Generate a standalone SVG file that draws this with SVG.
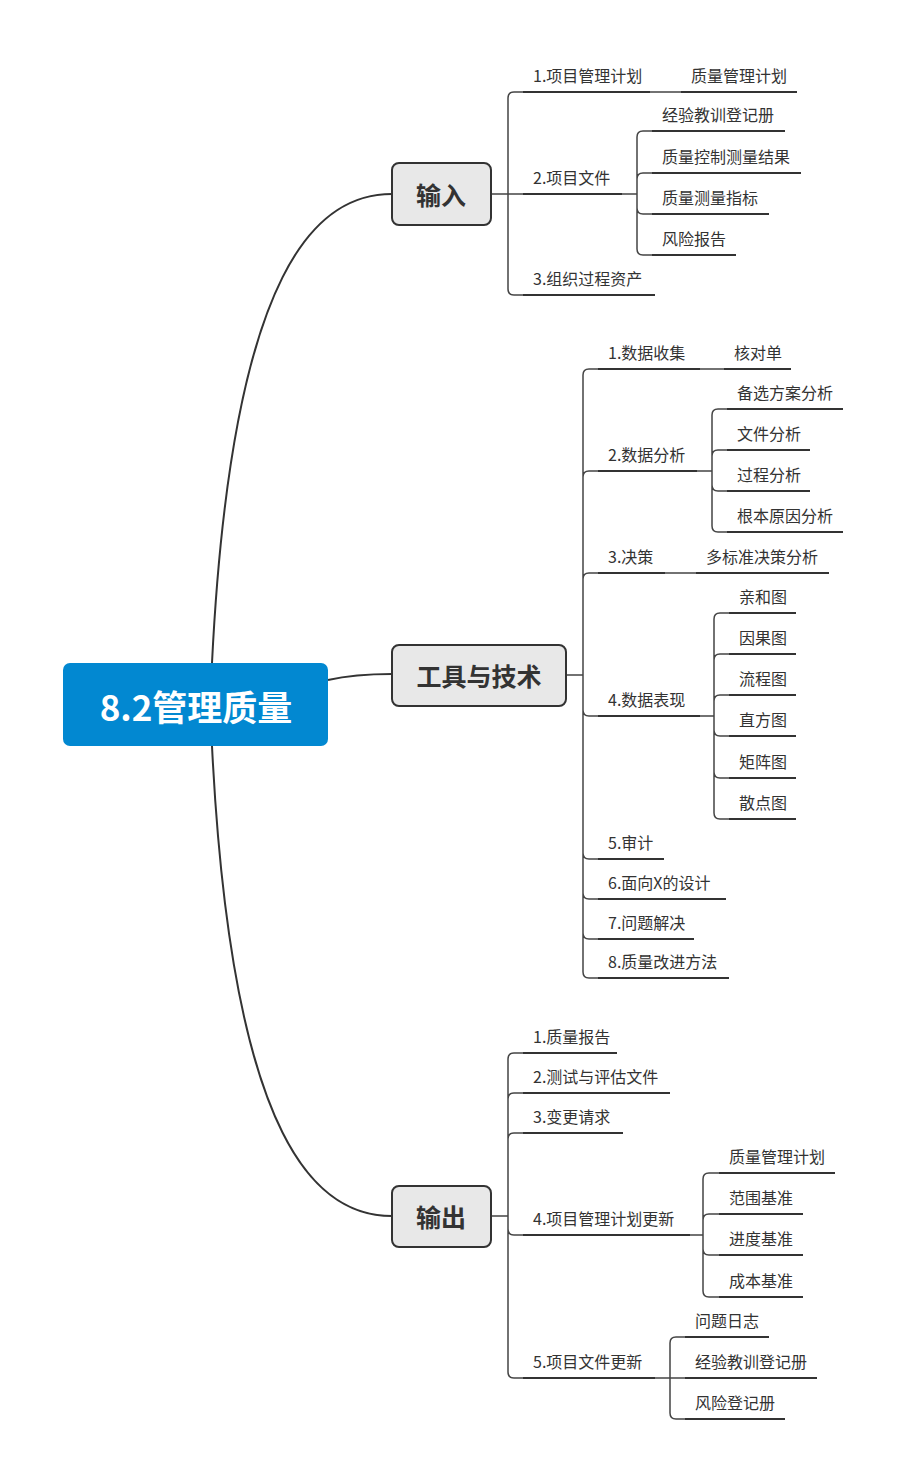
<svg xmlns="http://www.w3.org/2000/svg" width="906" height="1482" viewBox="0 0 906 1482">
<style>
text{font-family:"Noto Sans CJK SC","Noto Sans",sans-serif;fill:#333;}
.t{font-size:16px;}
.ul{stroke:#333;stroke-width:2;fill:none;}
.c{stroke:#444;stroke-width:1.5;fill:none;}
.rc{stroke:#333;stroke-width:2;fill:none;}
.n{fill:#e8e8e8;stroke:#333;stroke-width:2;}
.nt{font-size:25px;font-weight:bold;text-anchor:middle;dominant-baseline:central;}
</style>
<rect width="906" height="1482" fill="#fff"/>
<g id="connectors">
<path class="rc" d="M212,663 C232,260 320,194 392,194"/>
<path class="rc" d="M328,680 C350,675 370,674 392,674"/>
<path class="rc" d="M212,746 C232,1150 320,1216 392,1216"/>
<path class="c" d="M491,194 H508 M508,194 V98 Q508,92 514,92 H523 M508,194 H523 M508,194 V289 Q508,295 514,295 H523 M650,92 H681 M622,194 H637 M637,194 V137 Q637,131 643,131 H652 M637,194 V179 Q637,173 643,173 H652 M637,194 V208 Q637,214 643,214 H652 M637,194 V249 Q637,255 643,255 H652"/>
<path class="c" d="M566,675 H583 M583,675 V375 Q583,369 589,369 H598 M583,675 V477 Q583,471 589,471 H598 M583,675 V579 Q583,573 589,573 H598 M583,675 V710 Q583,716 589,716 H598 M583,675 V853 Q583,859 589,859 H598 M583,675 V893 Q583,899 589,899 H598 M583,675 V933 Q583,939 589,939 H598 M583,675 V972 Q583,978 589,978 H598 M700,369 H724 M697,471 H712 M712,471 V415 Q712,409 718,409 H727 M712,471 V456 Q712,450 718,450 H727 M712,471 V485 Q712,491 718,491 H727 M712,471 V526 Q712,532 718,532 H727 M665,573 H696 M700,716 H714 M714,716 V619 Q714,613 720,613 H729 M714,716 V660 Q714,654 720,654 H729 M714,716 V701 Q714,695 720,695 H729 M714,716 V730 Q714,736 720,736 H729 M714,716 V772 Q714,778 720,778 H729 M714,716 V813 Q714,819 720,819 H729"/>
<path class="c" d="M491,1216 H508 M508,1216 V1059 Q508,1053 514,1053 H523 M508,1216 V1099 Q508,1093 514,1093 H523 M508,1216 V1139 Q508,1133 514,1133 H523 M508,1216 V1229 Q508,1235 514,1235 H523 M508,1216 V1372 Q508,1378 514,1378 H523 M690,1235 H703 M703,1235 V1179 Q703,1173 709,1173 H719 M703,1235 V1220 Q703,1214 709,1214 H719 M703,1235 V1249 Q703,1255 709,1255 H719 M703,1235 V1291 Q703,1297 709,1297 H719 M655,1378 H670 M670,1378 V1343 Q670,1337 676,1337 H685 M670,1378 H685 M670,1378 V1413 Q670,1419 676,1419 H685"/>
</g>
<g id="root">
<rect x="63" y="663" width="265" height="83" rx="7" fill="#0288d1"/>
<text x="196" y="705" font-size="35" font-weight="bold" text-anchor="middle" dominant-baseline="central" style="fill:#fff">8.2管理质量</text>
</g>
<g id="n-input"><rect class="n" x="392" y="163" width="99" height="62" rx="7"/><text class="nt" x="441" y="194">输入</text></g>
<g id="n-tools"><rect class="n" x="392" y="645" width="174" height="61" rx="7"/><text class="nt" x="479" y="675">工具与技术</text></g>
<g id="n-output"><rect class="n" x="392" y="1186" width="99" height="61" rx="7"/><text class="nt" x="441" y="1216">输出</text></g>

<g id="i1"><text class="t" x="533" y="82">1.项目管理计划</text><line class="ul" x1="523" y1="92" x2="650" y2="92"/></g>
<g id="i1a"><text class="t" x="691" y="82">质量管理计划</text><line class="ul" x1="681" y1="92" x2="797" y2="92"/></g>
<g id="i2"><text class="t" x="533" y="184">2.项目文件</text><line class="ul" x1="523" y1="194" x2="622" y2="194"/></g>
<g id="i2a"><text class="t" x="662" y="121">经验教训登记册</text><line class="ul" x1="652" y1="131" x2="785" y2="131"/></g>
<g id="i2b"><text class="t" x="662" y="163">质量控制测量结果</text><line class="ul" x1="652" y1="173" x2="801" y2="173"/></g>
<g id="i2c"><text class="t" x="662" y="204">质量测量指标</text><line class="ul" x1="652" y1="214" x2="769" y2="214"/></g>
<g id="i2d"><text class="t" x="662" y="245">风险报告</text><line class="ul" x1="652" y1="255" x2="736" y2="255"/></g>
<g id="i3"><text class="t" x="533" y="285">3.组织过程资产</text><line class="ul" x1="523" y1="295" x2="655" y2="295"/></g>

<g id="t1"><text class="t" x="608" y="359">1.数据收集</text><line class="ul" x1="598" y1="369" x2="700" y2="369"/></g>
<g id="t1a"><text class="t" x="734" y="359">核对单</text><line class="ul" x1="724" y1="369" x2="791" y2="369"/></g>
<g id="t2"><text class="t" x="608" y="461">2.数据分析</text><line class="ul" x1="598" y1="471" x2="697" y2="471"/></g>
<g id="t2a"><text class="t" x="737" y="399">备选方案分析</text><line class="ul" x1="727" y1="409" x2="843" y2="409"/></g>
<g id="t2b"><text class="t" x="737" y="440">文件分析</text><line class="ul" x1="727" y1="450" x2="810" y2="450"/></g>
<g id="t2c"><text class="t" x="737" y="481">过程分析</text><line class="ul" x1="727" y1="491" x2="810" y2="491"/></g>
<g id="t2d"><text class="t" x="737" y="522">根本原因分析</text><line class="ul" x1="727" y1="532" x2="843" y2="532"/></g>
<g id="t3"><text class="t" x="608" y="563">3.决策</text><line class="ul" x1="598" y1="573" x2="665" y2="573"/></g>
<g id="t3a"><text class="t" x="706" y="563">多标准决策分析</text><line class="ul" x1="696" y1="573" x2="829" y2="573"/></g>
<g id="t4"><text class="t" x="608" y="706">4.数据表现</text><line class="ul" x1="598" y1="716" x2="700" y2="716"/></g>
<g id="t4a"><text class="t" x="739" y="603">亲和图</text><line class="ul" x1="729" y1="613" x2="796" y2="613"/></g>
<g id="t4b"><text class="t" x="739" y="644">因果图</text><line class="ul" x1="729" y1="654" x2="796" y2="654"/></g>
<g id="t4c"><text class="t" x="739" y="685">流程图</text><line class="ul" x1="729" y1="695" x2="796" y2="695"/></g>
<g id="t4d"><text class="t" x="739" y="726">直方图</text><line class="ul" x1="729" y1="736" x2="796" y2="736"/></g>
<g id="t4e"><text class="t" x="739" y="768">矩阵图</text><line class="ul" x1="729" y1="778" x2="796" y2="778"/></g>
<g id="t4f"><text class="t" x="739" y="809">散点图</text><line class="ul" x1="729" y1="819" x2="796" y2="819"/></g>
<g id="t5"><text class="t" x="608" y="849">5.审计</text><line class="ul" x1="598" y1="859" x2="664" y2="859"/></g>
<g id="t6"><text class="t" x="608" y="889">6.面向X的设计</text><line class="ul" x1="598" y1="899" x2="726" y2="899"/></g>
<g id="t7"><text class="t" x="608" y="929">7.问题解决</text><line class="ul" x1="598" y1="939" x2="694" y2="939"/></g>
<g id="t8"><text class="t" x="608" y="968">8.质量改进方法</text><line class="ul" x1="598" y1="978" x2="729" y2="978"/></g>

<g id="o1"><text class="t" x="533" y="1043">1.质量报告</text><line class="ul" x1="523" y1="1053" x2="617" y2="1053"/></g>
<g id="o2"><text class="t" x="533" y="1083">2.测试与评估文件</text><line class="ul" x1="523" y1="1093" x2="670" y2="1093"/></g>
<g id="o3"><text class="t" x="533" y="1123">3.变更请求</text><line class="ul" x1="523" y1="1133" x2="623" y2="1133"/></g>
<g id="o4"><text class="t" x="533" y="1225">4.项目管理计划更新</text><line class="ul" x1="523" y1="1235" x2="690" y2="1235"/></g>
<g id="o4a"><text class="t" x="729" y="1163">质量管理计划</text><line class="ul" x1="719" y1="1173" x2="835" y2="1173"/></g>
<g id="o4b"><text class="t" x="729" y="1204">范围基准</text><line class="ul" x1="719" y1="1214" x2="803" y2="1214"/></g>
<g id="o4c"><text class="t" x="729" y="1245">进度基准</text><line class="ul" x1="719" y1="1255" x2="803" y2="1255"/></g>
<g id="o4d"><text class="t" x="729" y="1287">成本基准</text><line class="ul" x1="719" y1="1297" x2="803" y2="1297"/></g>
<g id="o5"><text class="t" x="533" y="1368">5.项目文件更新</text><line class="ul" x1="523" y1="1378" x2="655" y2="1378"/></g>
<g id="o5a"><text class="t" x="695" y="1327">问题日志</text><line class="ul" x1="685" y1="1337" x2="769" y2="1337"/></g>
<g id="o5b"><text class="t" x="695" y="1368">经验教训登记册</text><line class="ul" x1="685" y1="1378" x2="817" y2="1378"/></g>
<g id="o5c"><text class="t" x="695" y="1409">风险登记册</text><line class="ul" x1="685" y1="1419" x2="785" y2="1419"/></g>
</svg>
